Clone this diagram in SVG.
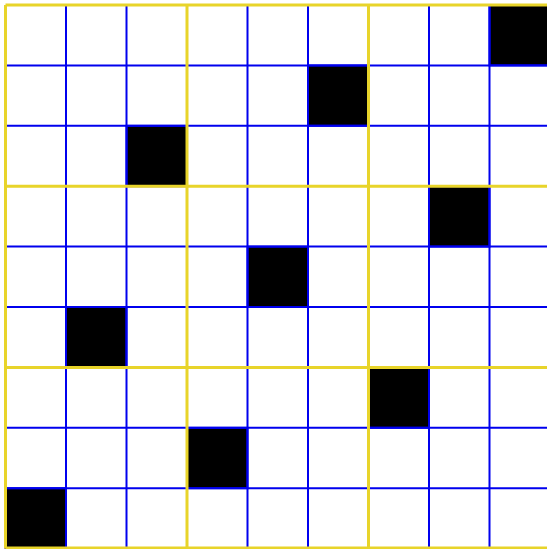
<svg xmlns="http://www.w3.org/2000/svg" width="547" height="549" viewBox="0 0 547 549">
<style>
.cell{fill:#000;stroke:#0000ee;stroke-width:2}
.thin{stroke:#0000ee;stroke-width:2;fill:none}
.thick{stroke:#e8d42a;stroke-width:3;fill:none}
</style>
<rect width="547" height="549" fill="#fff"/>
<g id="cells">
<rect id="c0" class="cell" x="489.5" y="5" width="60.5" height="60.4"/>
<rect id="c1" class="cell" x="308" y="65.4" width="60.5" height="60.4"/>
<rect id="c2" class="cell" x="126.5" y="125.8" width="60.5" height="60.4"/>
<rect id="c3" class="cell" x="429" y="186.2" width="60.5" height="60.4"/>
<rect id="c4" class="cell" x="247.5" y="246.6" width="60.5" height="60.4"/>
<rect id="c5" class="cell" x="66" y="307" width="60.5" height="60.4"/>
<rect id="c6" class="cell" x="368.5" y="367.4" width="60.5" height="60.4"/>
<rect id="c7" class="cell" x="187" y="427.8" width="60.5" height="60.4"/>
<rect id="c8" class="cell" x="5.5" y="488.2" width="60.5" height="60.4"/>
</g>
<g id="connectors">
<path class="thin" d="M66 5V548.6M126.5 5V548.6M247.5 5V548.6M308 5V548.6M429 5V548.6M489.5 5V548.6M5.5 65.4H550M5.5 125.8H550M5.5 246.6H550M5.5 307H550M5.5 427.8H550M5.5 488.2H550"/>
<path class="thick" d="M5.5 5V548.6M187 5V548.6M368.5 5V548.6M550 5V548.6M5.5 5H550M5.5 186.2H550M5.5 367.4H550M5.5 548H550"/>
</g>
</svg>
